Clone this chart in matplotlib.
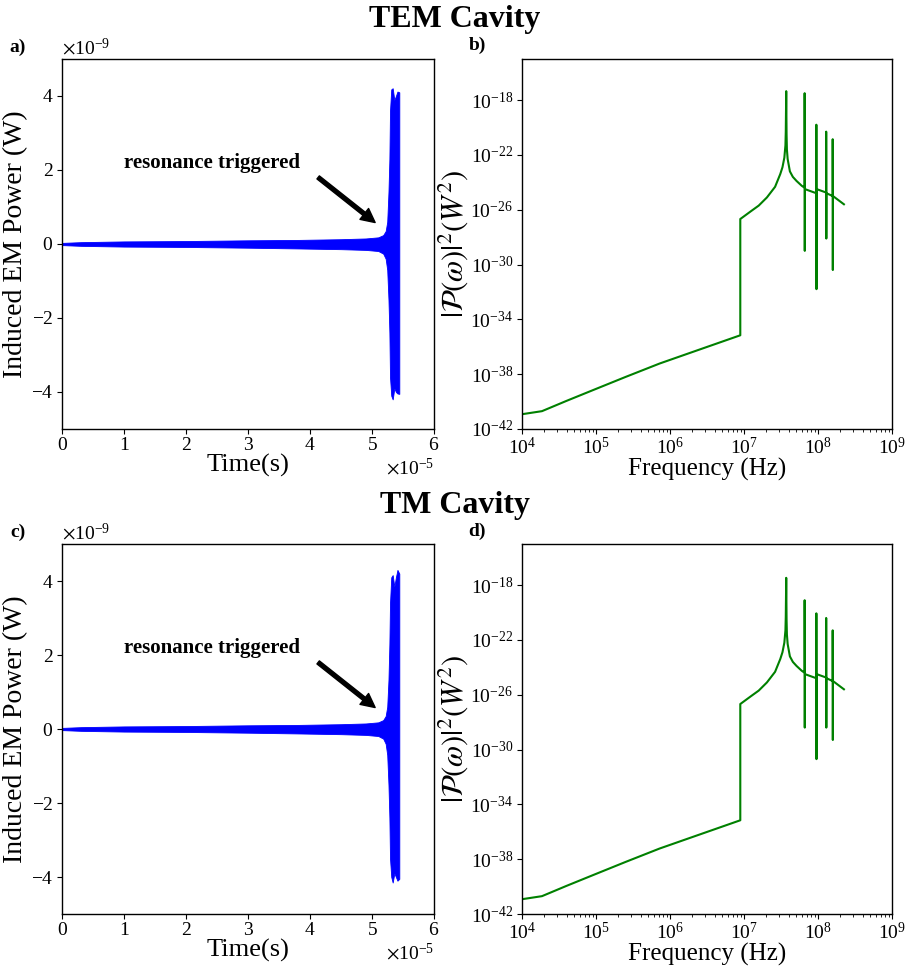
import numpy as np
import matplotlib
matplotlib.use("Agg")
import matplotlib.pyplot as plt
from matplotlib.ticker import LogLocator, NullLocator, FixedLocator

plt.rcParams['font.family'] = ['Liberation Serif', 'DejaVu Serif']
plt.rcParams['mathtext.fontset'] = 'stix'
plt.rcParams['xtick.labelsize'] = 14
plt.rcParams['ytick.labelsize'] = 14
plt.rcParams['xtick.major.pad'] = 2
plt.rcParams['ytick.major.pad'] = 3
plt.rcParams['axes.linewidth'] = 1.0

# ---- time-domain envelope of the induced power (s, W) ----
t_env = [0.0, 0.3e-5, 1.0e-5, 2.0e-5, 3.0e-5, 3.8e-5, 4.5e-5, 4.9e-5, 5.1e-5,
         5.18e-5, 5.22e-5, 5.245e-5, 5.265e-5, 5.28e-5, 5.29e-5, 5.31e-5,
         5.333e-5, 5.36e-5, 5.385e-5, 5.41e-5, 5.44e-5]
upper_tem = [0.03e-9, 0.05e-9, 0.07e-9, 0.08e-9, 0.10e-9, 0.11e-9, 0.13e-9, 0.15e-9, 0.18e-9,
             0.24e-9, 0.35e-9, 0.6e-9, 1.4e-9, 2.3e-9, 3.6e-9, 4.18e-9,
             4.21e-9, 3.89e-9, 4.0e-9, 4.12e-9, 4.1e-9]
lower_tem = [-0.03e-9, -0.05e-9, -0.07e-9, -0.08e-9, -0.10e-9, -0.12e-9, -0.14e-9, -0.16e-9, -0.19e-9,
             -0.26e-9, -0.4e-9, -0.7e-9, -1.5e-9, -2.4e-9, -3.6e-9, -4.1e-9,
             -4.2e-9, -3.9e-9, -4.0e-9, -4.04e-9, -4.05e-9]
upper_tm = [0.03e-9, 0.05e-9, 0.07e-9, 0.08e-9, 0.10e-9, 0.11e-9, 0.13e-9, 0.15e-9, 0.18e-9,
            0.24e-9, 0.35e-9, 0.6e-9, 1.32e-9, 2.3e-9, 3.4e-9, 4.1e-9,
            4.16e-9, 3.85e-9, 4.1e-9, 4.3e-9, 4.2e-9]
lower_tm = [-0.03e-9, -0.05e-9, -0.07e-9, -0.08e-9, -0.10e-9, -0.12e-9, -0.14e-9, -0.16e-9, -0.19e-9,
            -0.26e-9, -0.4e-9, -0.7e-9, -1.5e-9, -2.4e-9, -3.5e-9, -4.0e-9,
            -4.15e-9, -3.9e-9, -4.0e-9, -4.1e-9, -4.05e-9]

# ---- power spectrum: smooth background with the fundamental resonance (Hz, W^2) ----
base_freq = [1.0e4, 1.86e4, 3.98e4, 9.12e4, 2.51e5, 7.24e5, 2.51e6, 8.91e6,
             8.91e6, 1.26e7, 1.58e7, 2.04e7, 2.63e7, 3.09e7, 3.31e7, 3.51e7, 3.63e7, 3.67e7,
             3.72e7,
             3.76e7, 3.80e7, 3.89e7, 4.17e7, 4.57e7, 5.13e7, 6.03e7]
base_power_tem = [1.2e-41, 2.0e-41, 1.12e-40, 6.9e-40, 6.3e-39, 6.0e-38, 6.3e-37, 6.9e-36,
                  2.1e-27, 8.3e-27, 2.0e-26, 7.9e-26, 4.7e-25, 4.0e-24, 1.26e-23, 6.3e-23, 5.0e-22, 5.0e-21,
                  4.5e-18,
                  3.2e-21, 2.5e-22, 5.0e-23, 6.3e-24, 2.5e-24, 1.26e-24, 5.6e-25]
base_power_tm = [1.2e-41, 2.0e-41, 1.12e-40, 6.9e-40, 6.3e-39, 6.0e-38, 6.3e-37, 6.9e-36,
                 2.1e-27, 8.3e-27, 2.0e-26, 7.9e-26, 4.7e-25, 4.0e-24, 1.26e-23, 6.3e-23, 5.0e-22, 5.0e-21,
                 3.4e-18,
                 3.2e-21, 2.5e-22, 5.0e-23, 6.3e-24, 2.5e-24, 1.26e-24, 5.6e-25]

# ---- higher-order resonances ----
spike_freq = [6.6e7, 9.5e7, 1.29e8, 1.58e8]
spike_base = [4.0e-25, 1.6e-25, 1.8e-25, 1.0e-25]
spike_after = [3.2e-25, 3.2e-25, 1.6e-25, 1.0e-25]
spike_top_tem = [3.2e-18, 1.6e-20, 5.0e-21, 1.4e-21]
spike_bot_tem = [1.0e-29, 1.6e-32, 7.9e-29, 4.0e-31]
spike_top_tm = [7.9e-20, 8.7e-21, 4.0e-21, 5.0e-22]
spike_bot_tm = [4.0e-29, 2.0e-31, 4.0e-29, 5.0e-30]
end_freq = 2.24e8
end_power = 2.5e-26


def spectrum(base_p, tops, bots):
    f = list(base_freq)
    p = list(base_p)
    for fs, pb, pt, pd, pa in zip(spike_freq, spike_base, tops, bots, spike_after):
        f += [fs, fs, fs * 1.004, fs * 1.008]
        p += [pb, pt, pd, pa]
    f.append(end_freq)
    p.append(end_power)
    return f, p


def time_panel(ax, upper, lower):
    ax.fill_between(t_env, lower, upper, color='blue', lw=0.6, edgecolor='blue')
    ax.set_xlim(0, 6e-5)
    ax.set_ylim(-5e-9, 5e-9)
    ax.set_xticks([0, 1e-5, 2e-5, 3e-5, 4e-5, 5e-5, 6e-5])
    ax.set_yticks([-4e-9, -2e-9, 0, 2e-9, 4e-9])
    ax.ticklabel_format(useMathText=True)
    ax.set_xlabel('Time(s)', fontsize=19, labelpad=0)
    ax.set_ylabel('Induced EM Power (W)', fontsize=20, labelpad=2)
    ax.text(1.0e-5, 2.2e-9, 'resonance triggered', fontsize=15, fontweight='bold',
            ha='left', va='center')
    ax.annotate('', xy=(5.05e-5, 0.58e-9), xytext=(4.13e-5, 1.8e-9),
                arrowprops=dict(facecolor='black', edgecolor='black', width=2.8,
                                headwidth=10, headlength=10, shrink=0))


def freq_panel(ax, base_p, tops, bots):
    f, p = spectrum(base_p, tops, bots)
    ax.loglog(f, p, color='green', lw=1.5)
    ax.set_xlim(1e4, 1e9)
    ax.set_ylim(1e-42, 1e-15)
    ax.xaxis.set_major_locator(FixedLocator([1e4, 1e5, 1e6, 1e7, 1e8, 1e9]))
    ax.xaxis.set_minor_locator(LogLocator(base=10, subs=np.arange(2, 10), numticks=20))
    ax.yaxis.set_major_locator(FixedLocator([1e-42, 1e-38, 1e-34, 1e-30, 1e-26, 1e-22, 1e-18]))
    ax.yaxis.set_minor_locator(NullLocator())
    ax.set_xlabel('Frequency (Hz)', fontsize=18, labelpad=0)
    ax.set_ylabel(r'$|\mathcal{P}(\omega)|^2(W^2)$', fontsize=22, labelpad=0)


fig = plt.figure(figsize=(9.1, 9.67), dpi=100)
W, H = 910.0, 967.0
ax_a = fig.add_axes([62.3 / W, 1 - 429 / H, 371.7 / W, 370 / H])
ax_b = fig.add_axes([522 / W, 1 - 429 / H, 370 / W, 370 / H])
ax_c = fig.add_axes([62.3 / W, 1 - 914 / H, 371.7 / W, 370 / H])
ax_d = fig.add_axes([522 / W, 1 - 914 / H, 370 / W, 370 / H])

time_panel(ax_a, upper_tem, lower_tem)
time_panel(ax_c, upper_tm, lower_tm)
freq_panel(ax_b, base_power_tem, spike_top_tem, spike_bot_tem)
freq_panel(ax_d, base_power_tm, spike_top_tm, spike_bot_tm)

fig.text(0.5, 1 - 19 / H, 'TEM Cavity', fontsize=23, fontweight='bold', ha='center', va='center')
fig.text(0.5, 1 - 505 / H, 'TM Cavity', fontsize=23, fontweight='bold', ha='center', va='center')
for lab, x, y in [('a)', 18, 47), ('b)', 477, 45), ('c)', 18, 532), ('d)', 477, 531)]:
    fig.text(x / W, 1 - y / H, lab, fontsize=14, fontweight='bold', ha='center', va='center')

fig.savefig('out.png', dpi=100)
